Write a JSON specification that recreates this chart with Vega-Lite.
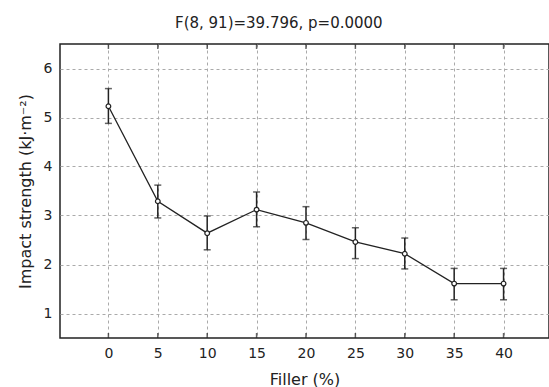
{
  "$schema": "https://vega.github.io/schema/vega-lite/v6.json",
  "autosize": "none",
  "width": 489,
  "height": 294,
  "padding": {"left": 60, "top": 44, "right": 0, "bottom": 49},
  "background": "white",
  "title": {"text": "F(8, 91)=39.796, p=0.0000", "font": "DejaVu Sans", "fontSize": 15, "fontWeight": "normal", "color": "#222", "offset": 13, "anchor": "start", "frame": "group", "dx": 115},
  "config": {
    "view": {"stroke": "#222", "strokeWidth": 1.5},
    "axis": {"labelFont": "DejaVu Sans", "titleFont": "DejaVu Sans", "labelFontSize": 14, "titleFontSize": 16, "titleFontWeight": "normal", "labelColor": "#222", "titleColor": "#222", "gridColor": "#aaa", "gridDash": [3, 3], "gridWidth": 1, "domain": false, "ticks": false, "tickSize": 0}
  },
  "data": {"values": [
    {"filler": 0, "mean": 5.23, "lo": 4.88, "hi": 5.59},
    {"filler": 5, "mean": 3.29, "lo": 2.95, "hi": 3.62},
    {"filler": 10, "mean": 2.64, "lo": 2.30, "hi": 2.99},
    {"filler": 15, "mean": 3.12, "lo": 2.77, "hi": 3.48},
    {"filler": 20, "mean": 2.85, "lo": 2.51, "hi": 3.18},
    {"filler": 25, "mean": 2.46, "lo": 2.12, "hi": 2.75},
    {"filler": 30, "mean": 2.22, "lo": 1.91, "hi": 2.54},
    {"filler": 35, "mean": 1.61, "lo": 1.28, "hi": 1.92},
    {"filler": 40, "mean": 1.61, "lo": 1.28, "hi": 1.92}
  ]},
  "encoding": {
    "x": {"field": "filler", "type": "quantitative", "scale": {"domain": [-4.9, 44.6], "nice": false, "zero": false},
      "axis": {"title": "Filler (%)", "values": [0, 5, 10, 15, 20, 25, 30, 35, 40], "labelPadding": 8, "titleY": 41, "titleBaseline": "middle"}}
  },
  "layer": [
    {"mark": {"type": "errorbar", "ticks": {"size": 7, "color": "#222", "thickness": 1.5}, "rule": {"color": "#222", "strokeWidth": 1.5}},
     "encoding": {"y": {"field": "lo", "type": "quantitative", "scale": {"domain": [0.5, 6.5], "nice": false, "zero": false},
        "axis": {"title": "Impact strength (kJ·m⁻²)", "values": [1, 2, 3, 4, 5, 6], "labelPadding": 8, "titleX": -35, "titleBaseline": "middle"}},
       "y2": {"field": "hi"}}},
    {"mark": {"type": "tick", "orient": "vertical", "color": "#222", "size": 5, "thickness": 1.5, "yOffset": -2.5}, "encoding": {"y": {"datum": 0.5, "type": "quantitative"}}},
    {"mark": {"type": "tick", "orient": "vertical", "color": "#222", "size": 5, "thickness": 1.5, "yOffset": 2.5}, "encoding": {"y": {"datum": 6.5, "type": "quantitative"}}},
    {"mark": {"type": "line", "color": "#222", "strokeWidth": 1.3}, "encoding": {"y": {"field": "mean", "type": "quantitative"}}},
    {"mark": {"type": "point", "shape": "circle", "filled": true, "fill": "white", "stroke": "#222", "strokeWidth": 1.2, "size": 22, "opacity": 1}, "encoding": {"y": {"field": "mean", "type": "quantitative"}}}
  ]
}
